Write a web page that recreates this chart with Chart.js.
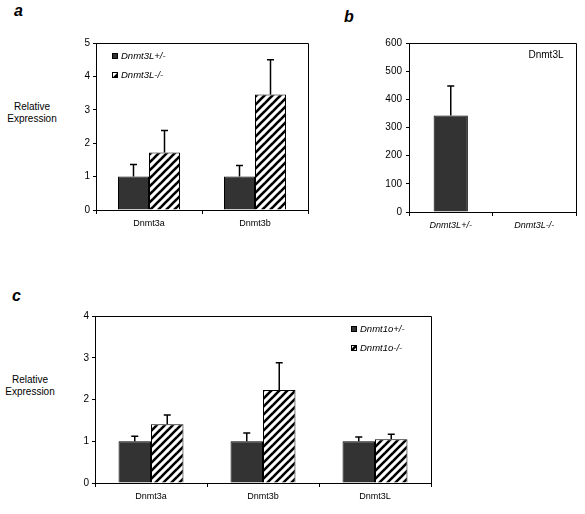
<!DOCTYPE html>
<html lang="en">
<head>
<meta charset="UTF-8">
<title>Relative Expression</title>
<script src="https://cdn.jsdelivr.net/npm/chart.js@4"></script>
<style>
    body { margin: 0; background: #fff; font-family: "Liberation Sans", Arial, sans-serif; }
    #page { position: relative; width: 585px; height: 514px; overflow: hidden; }
    .panel { position: absolute; }
    .letter { position: absolute; font: italic bold 16px "Liberation Sans", Arial, sans-serif; line-height: 16px; }
    .ylab { position: absolute; width: 64px; text-align: center; font-size: 10px; line-height: 12px; }
</style>
</head>
<body>
<div id="page">
    <div class="letter" style="left:14px; top:3px;">a</div>
    <div class="letter" style="left:344px; top:9px;">b</div>
    <div class="letter" style="left:12px; top:288px;">c</div>

    <div class="ylab" style="left:0px; top:101px;">Relative<br>Expression</div>
    <div class="ylab" style="left:-2px; top:374px;">Relative<br>Expression</div>

    <canvas id="chartA" class="panel" width="320" height="240" style="left:0; top:0;"></canvas>
    <canvas id="chartB" class="panel" width="265" height="240" style="left:320px; top:0;"></canvas>
    <canvas id="chartC" class="panel" width="450" height="244" style="left:0; top:270px;"></canvas>
</div>

<script>
    // panel a - Dnmt3L knockout
    const catsA = ['Dnmt3a', 'Dnmt3b'];
    const labelsA = ['Dnmt3L+/-', 'Dnmt3L-/-'];
    const hetA = [1.0, 1.0];
    const hetAErr = [0.36, 0.33];
    const koA = [1.72, 3.46];
    const koAErr = [0.66, 1.04];
    const yMaxA = 5, yStepA = 1;

    // panel b - Dnmt3L itself
    const catsB = ['Dnmt3L+/-', 'Dnmt3L-/-'];
    const valsB = [343, 0];
    const errB = [104, 0];
    const noteB = 'Dnmt3L';
    const yMaxB = 600, yStepB = 100;

    // panel c - Dnmt1o knockout
    const catsC = ['Dnmt3a', 'Dnmt3b', 'Dnmt3L'];
    const labelsC = ['Dnmt1o+/-', 'Dnmt1o-/-'];
    const hetC = [1.0, 1.0, 1.0];
    const hetCErr = [0.12, 0.2, 0.1];
    const koC = [1.41, 2.23, 1.05];
    const koCErr = [0.22, 0.65, 0.12];
    const yMaxC = 4, yStepC = 1;

    const FONT = '"Liberation Sans", Arial, sans-serif';
    Chart.defaults.font.family = FONT;
    Chart.defaults.color = '#000';

    const DARK = '#333333';

    function hatch() {
        const c = document.createElement('canvas');
        c.width = 8; c.height = 8;
        const g = c.getContext('2d');
        g.fillStyle = '#fff';
        g.fillRect(0, 0, 8, 8);
        g.strokeStyle = '#000';
        g.lineWidth = 2.6;
        [-8, 0, 8].forEach(k => {
            g.beginPath();
            g.moveTo(k - 1, 9);
            g.lineTo(k + 9, -1);
            g.stroke();
        });
        return g.createPattern(c, 'repeat');
    }
    const HATCH = hatch();

    // upward-only error bars with a small cap
    const errorBars = {
        id: 'errorBars',
        afterDatasetsDraw(chart) {
            const ctx = chart.ctx, y = chart.scales.y;
            ctx.save();
            ctx.strokeStyle = '#000';
            ctx.lineWidth = 1.5;
            chart.data.datasets.forEach((ds, i) => {
                if (!ds.errors) return;
                chart.getDatasetMeta(i).data.forEach((bar, j) => {
                    const e = ds.errors[j];
                    if (!e) return;
                    const top = y.getPixelForValue(ds.data[j] + e);
                    ctx.beginPath();
                    ctx.moveTo(bar.x, bar.y);
                    ctx.lineTo(bar.x, top);
                    ctx.moveTo(bar.x - 3.5, top);
                    ctx.lineTo(bar.x + 3.5, top);
                    ctx.stroke();
                });
            });
            ctx.restore();
        }
    };

    // top and right edges of the plot box
    const frame = {
        id: 'frame',
        afterDraw(chart) {
            const a = chart.chartArea, ctx = chart.ctx;
            ctx.save();
            ctx.strokeStyle = '#000';
            ctx.lineWidth = 1;
            ctx.beginPath();
            ctx.moveTo(a.left, Math.round(a.top) + 0.5);
            ctx.lineTo(Math.round(a.right) + 0.5, Math.round(a.top) + 0.5);
            ctx.lineTo(Math.round(a.right) + 0.5, a.bottom);
            ctx.stroke();
            ctx.restore();
        }
    };

    // small square legend inside the plot
    const boxLegend = {
        id: 'boxLegend',
        afterDraw(chart, args, opts) {
            if (!opts || opts.x === undefined) return;
            const ctx = chart.ctx;
            ctx.save();
            ctx.font = 'italic 9.5px ' + FONT;
            ctx.textBaseline = 'middle';
            chart.data.datasets.forEach((ds, i) => {
                const y = opts.y + i * opts.dy;
                ctx.fillStyle = ds.backgroundColor;
                ctx.fillRect(opts.x, y - 3, 6, 6);
                ctx.strokeStyle = '#000';
                ctx.lineWidth = 1;
                ctx.strokeRect(opts.x + 0.5, y - 2.5, 5, 5);
                ctx.fillStyle = '#000';
                ctx.fillText(ds.label, opts.x + 9, y + 0.5);
            });
            ctx.restore();
        }
    };

    const note = {
        id: 'note',
        afterDraw(chart, args, opts) {
            if (!opts || !opts.text) return;
            const ctx = chart.ctx;
            ctx.save();
            ctx.font = '10px ' + FONT;
            ctx.fillStyle = '#000';
            ctx.textAlign = 'center';
            ctx.textBaseline = 'middle';
            ctx.fillText(opts.text, opts.x, opts.y);
            ctx.restore();
        }
    };

    function options(p) {
        return {
            responsive: false,
            animation: false,
            devicePixelRatio: 1,
            layout: { padding: { top: p.top, right: p.right, left: 0, bottom: 0 } },
            datasets: { bar: { categoryPercentage: p.catPct, barPercentage: 1 } },
            plugins: {
                legend: { display: false },
                tooltip: { enabled: false },
                boxLegend: p.legend || {},
                note: p.note || {}
            },
            scales: {
                x: {
                    grid: { offset: true, drawOnChartArea: false, tickLength: 4, color: '#000' },
                    border: { display: true, color: '#000', width: 1 },
                    ticks: { padding: 4, maxRotation: 0, autoSkip: false,
                             font: { size: 9, style: p.xItalic ? 'italic' : 'normal' } },
                    afterFit(s) { s.height = p.xh; }
                },
                y: {
                    min: 0, max: p.max,
                    grid: { drawOnChartArea: false, tickLength: 3, color: '#000' },
                    border: { display: true, color: '#000', width: 1 },
                    ticks: { stepSize: p.step, padding: p.ypad, font: { size: 10 } },
                    afterFit(s) { s.width = p.yw; }
                }
            }
        };
    }

    function pairData(cats, labels, het, hetErr, ko, koErr) {
        return {
            labels: cats,
            datasets: [
                { label: labels[0], data: het, errors: hetErr, backgroundColor: DARK,
                  borderColor: '#000', borderWidth: 1 },
                { label: labels[1], data: ko, errors: koErr, backgroundColor: HATCH,
                  borderColor: '#000', borderWidth: 1 }
            ]
        };
    }

    new Chart(document.getElementById('chartA'), {
        type: 'bar',
        data: pairData(catsA, labelsA, hetA, hetAErr, koA, koAErr),
        options: options({ top: 43, right: 12, yw: 96, xh: 30, max: yMaxA, step: yStepA,
                           ypad: 3, catPct: 0.585, legend: { x: 112, y: 56, dy: 19 } }),
        plugins: [errorBars, frame, boxLegend]
    });

    new Chart(document.getElementById('chartB'), {
        type: 'bar',
        data: {
            labels: catsB,
            datasets: [{ label: noteB, data: valsB, errors: errB, backgroundColor: DARK,
                         borderColor: '#000', borderWidth: 1 }]
        },
        options: options({ top: 43, right: 9, yw: 89, xh: 28, max: yMaxB, step: yStepB,
                           ypad: 4, catPct: 0.41, xItalic: true,
                           note: { text: noteB, x: 226, y: 55 } }),
        plugins: [errorBars, frame, note]
    });

    new Chart(document.getElementById('chartC'), {
        type: 'bar',
        data: pairData(catsC, labelsC, hetC, hetCErr, koC, koCErr),
        options: options({ top: 46, right: 19, yw: 95, xh: 31, max: yMaxC, step: yStepC,
                           ypad: 3, catPct: 0.58, legend: { x: 351, y: 59, dy: 19 } }),
        plugins: [errorBars, frame, boxLegend]
    });
</script>
</body>
</html>
